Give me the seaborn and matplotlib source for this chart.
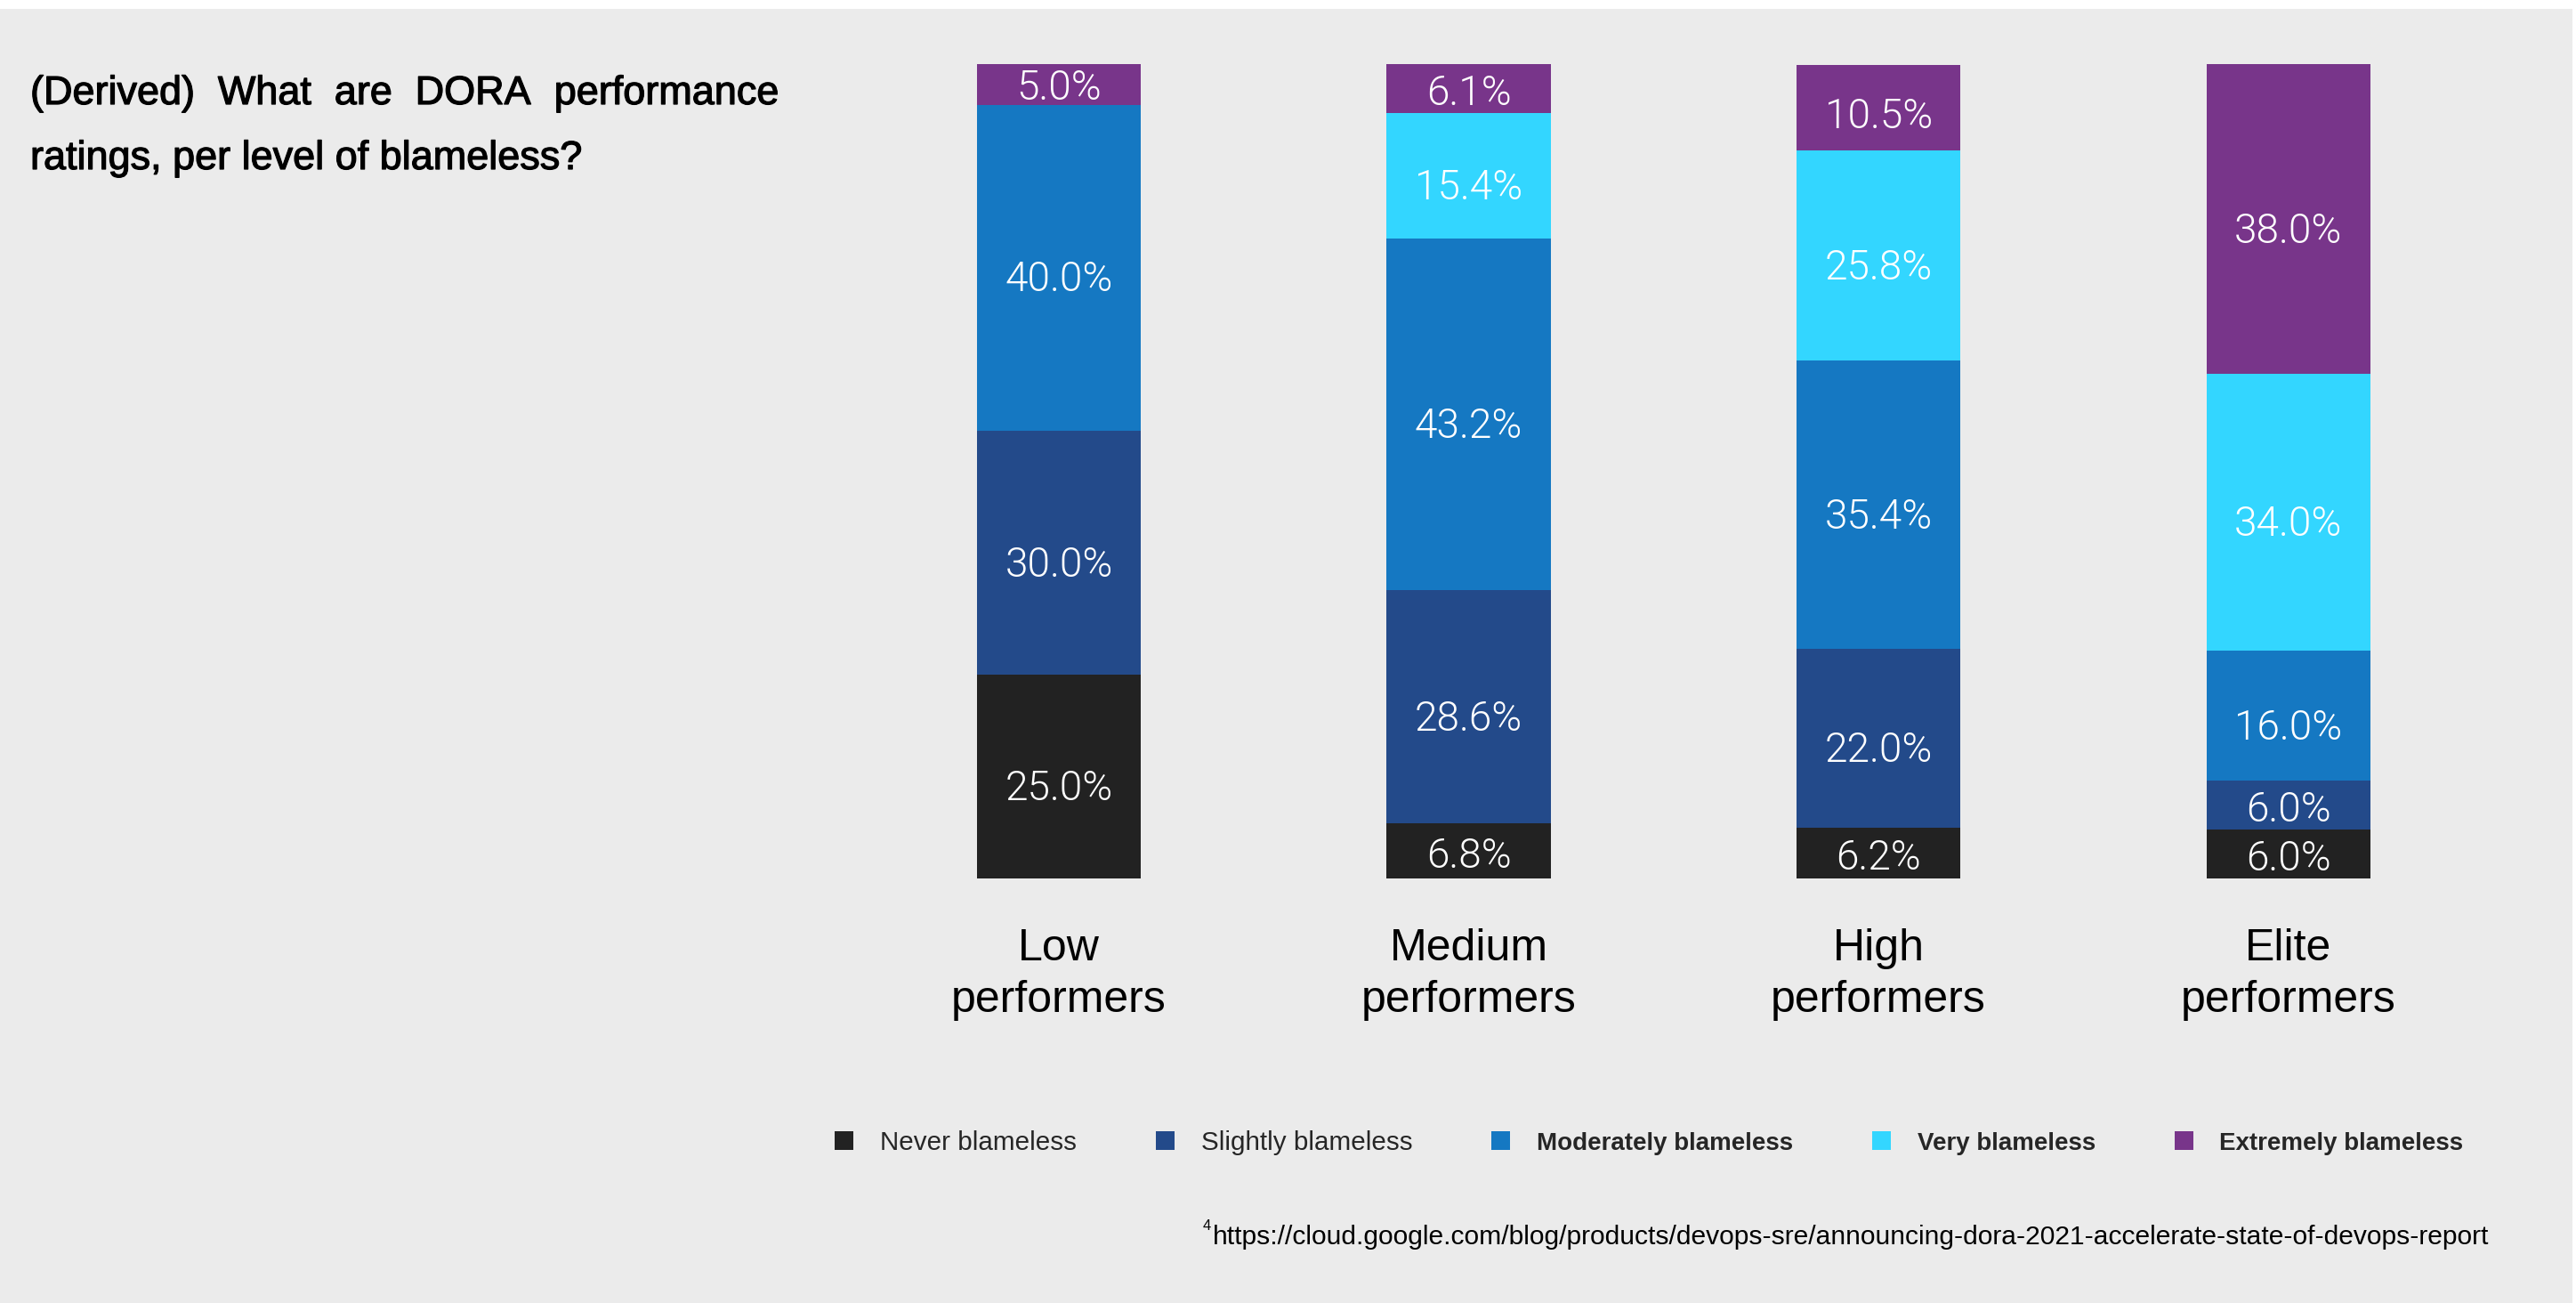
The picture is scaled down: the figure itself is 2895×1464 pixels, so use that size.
import numpy as np
import pandas as pd
import matplotlib
matplotlib.use("Agg")
import matplotlib.pyplot as plt
from matplotlib.patches import Patch, Rectangle
from matplotlib import patheffects as pe
import seaborn as sns

# ---- data -------------------------------------------------------------
performers = ["Low\nperformers", "Medium\nperformers", "High\nperformers", "Elite\nperformers"]
levels = ["Never blameless", "Slightly blameless", "Moderately blameless",
          "Very blameless", "Extremely blameless"]
never_blameless = [25.0, 6.8, 6.2, 6.0]
slightly_blameless = [30.0, 28.6, 22.0, 6.0]
moderately_blameless = [40.0, 43.2, 35.4, 16.0]
very_blameless = [0.0, 15.4, 25.8, 34.0]
extremely_blameless = [5.0, 6.1, 10.5, 38.0]
title_lines = [["(Derived)", "What", "are", "DORA", "performance"],
               "ratings, per level of blameless?"]
footnote = "https://cloud.google.com/blog/products/devops-sre/announcing-dora-2021-accelerate-state-of-devops-report"

colors = ["#222222", "#234A8A", "#1578C2", "#33D6FF", "#78358A"]
BG = "#EBEBEB"

series = [never_blameless, slightly_blameless, moderately_blameless,
          very_blameless, extremely_blameless]
df = pd.DataFrame({
    "performer": np.repeat(performers, len(levels)),
    "level": levels * len(performers),
    "value": np.array(series).T.ravel(),
})
df["top"] = df.groupby("performer", sort=False)["value"].cumsum()
df["bottom"] = df["top"] - df["value"]

sns.set_style("white")
plt.rcParams["font.family"] = ["Liberation Sans", "DejaVu Sans"]

W, H = 2895, 1464
fig = plt.figure(figsize=(W / 100, H / 100), dpi=100)
fig.patch.set_facecolor("white")
fig.add_artist(Rectangle((0, 0), 2891 / W, 1454 / H, transform=fig.transFigure,
                         facecolor=BG, edgecolor="none", zorder=-10))


def fx(px):
    return px / W


def fy(py):
    return 1 - py / H


ax = fig.add_axes([fx(959.6), fy(987), fx(2802) - fx(959.6), (987 - 72) / H])
ax.patch.set_alpha(0)

# stacked bars: draw cumulative totals from the top level down
for lvl, col in reversed(list(zip(levels, colors))):
    sub = df[df["level"] == lvl]
    sns.barplot(data=sub, x="performer", y="top", order=performers, color=col,
                width=0.4, saturation=1, ax=ax, linewidth=0, edgecolor="none")

for _, row in df.iterrows():
    if row["value"] <= 0:
        continue
    i = performers.index(row["performer"])
    yc = row["bottom"] + row["value"] / 2 - min(row["value"] * 0.1, 1.5)
    ax.text(i, yc, f"{row['value']:.1f}%", ha="center", va="center",
            color="white", fontsize=33, fontweight=300,
            family=["Roboto", "Liberation Sans"], zorder=10)

ax.set_xlim(-0.5, 3.5)
ax.set_ylim(0, 100)
ax.set_xlabel("")
ax.set_ylabel("")
ax.set_yticks([])
ax.tick_params(axis="x", length=0, pad=40, labelsize=36, colors="black")
for lab in ax.get_xticklabels():
    lab.set_linespacing(1.35)
sns.despine(ax=ax, left=True, bottom=True)

# title, justified on the first line
fig.canvas.draw()
r = fig.canvas.get_renderer()
stroke = [pe.withStroke(linewidth=0.9, foreground="black")]
words = [fig.text(0, fy(117), w, fontsize=32.4, color="black", va="baseline",
                  path_effects=stroke) for w in title_lines[0]]
fig.canvas.draw()
widths = [t.get_window_extent(r).width for t in words]
gap = (875 - 34 - sum(widths)) / (len(words) - 1)
x = 34
for t, w in zip(words, widths):
    t.set_x(fx(x))
    x += w + gap
fig.text(fx(34), fy(190), title_lines[1], fontsize=32.4, color="black",
         va="baseline", path_effects=stroke)

# legend
handles = [Patch(facecolor=c, edgecolor="none") for c in colors]
leg = fig.legend(handles, levels, loc="center left",
                 bbox_to_anchor=(fx(938), fy(1284)), ncol=5, frameon=False,
                 fontsize=21.3, handlelength=0.72, handleheight=0.72,
                 handletextpad=1.0, columnspacing=3.0, borderpad=0,
                 borderaxespad=0)
for t in leg.get_texts()[2:]:
    t.set_fontweight("bold")
    t.set_fontsize(20)

# footnote
fn = fig.text(fx(2797), fy(1398), footnote, fontsize=21, ha="right",
              va="baseline", color="black")
fig.canvas.draw()
bb = fn.get_window_extent(r)
fn.set_fontsize(21 * 1437 / bb.width)
fig.canvas.draw()
bb = fn.get_window_extent(r)
fig.text(bb.x0 / W - fx(2), fy(1382), "4", fontsize=12, ha="right",
         va="baseline", color="black")

fig.savefig("out.png", dpi=100, facecolor=fig.get_facecolor())
